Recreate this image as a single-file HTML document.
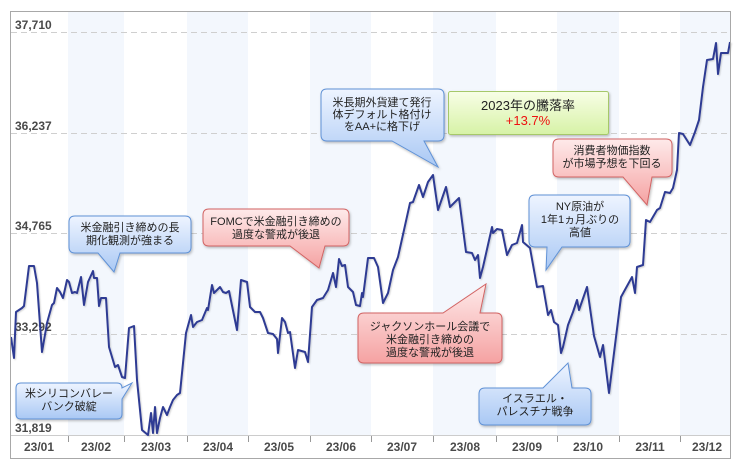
<!DOCTYPE html>
<html><head><meta charset="utf-8">
<style>
html,body{margin:0;padding:0;background:#fff;}
svg{display:block;}
.jp{font-family:"Liberation Sans","Noto Sans CJK JP",sans-serif;font-size:11px;fill:#222;text-anchor:middle;}
.ax{font-family:"Liberation Sans",sans-serif;font-size:12px;font-weight:bold;fill:#4a4a4a;}
.mx{font-family:"Liberation Sans",sans-serif;font-size:12px;font-weight:bold;fill:#4a4a4a;text-anchor:middle;}
</style></head>
<body>
<svg width="750" height="468" viewBox="0 0 750 468" xmlns="http://www.w3.org/2000/svg">
<defs>
<linearGradient id="gb" x1="0" y1="0" x2="0" y2="1"><stop offset="0" stop-color="#eef4ff"/><stop offset="1" stop-color="#a9c8f4"/></linearGradient>
<linearGradient id="gr" x1="0" y1="0" x2="0" y2="1"><stop offset="0" stop-color="#feeaea"/><stop offset="1" stop-color="#f5a2a2"/></linearGradient>
<linearGradient id="gg" x1="0" y1="0" x2="0" y2="1"><stop offset="0" stop-color="#f8fee6"/><stop offset="1" stop-color="#d6f2a6"/></linearGradient>
<filter id="sh" x="-10%" y="-10%" width="130%" height="140%"><feDropShadow dx="1" dy="1.5" stdDeviation="1.2" flood-color="#000" flood-opacity="0.25"/></filter>
<filter id="ls" x="-5%" y="-5%" width="110%" height="110%"><feDropShadow dx="1" dy="1" stdDeviation="0.8" flood-color="#000" flood-opacity="0.18"/></filter>
</defs>
<rect x="0" y="0" width="750" height="468" fill="#fff"/>
<!-- shaded month bands -->
<g fill="#f3f7fd">
<rect x="68" y="11" width="56" height="424"/>
<rect x="187" y="11" width="61" height="424"/>
<rect x="310" y="11" width="61" height="424"/>
<rect x="433" y="11" width="63" height="424"/>
<rect x="557" y="11" width="62" height="424"/>
<rect x="680" y="11" width="50" height="424"/>
</g>
<!-- gridlines -->
<g stroke="#cfcfcf" stroke-width="1" stroke-dasharray="6,4">
<line x1="11" y1="32.5" x2="730" y2="32.5"/>
<line x1="11" y1="133.5" x2="730" y2="133.5"/>
<line x1="11" y1="233.5" x2="730" y2="233.5"/>
<line x1="11" y1="334.5" x2="730" y2="334.5"/>
</g>
<line x1="11" y1="435.5" x2="730" y2="435.5" stroke="#cccccc" stroke-width="1"/>
<g stroke="#999" stroke-width="1">
<line x1="68.5" y1="436" x2="68.5" y2="442"/>
<line x1="124.5" y1="436" x2="124.5" y2="442"/>
<line x1="187.5" y1="436" x2="187.5" y2="442"/>
<line x1="248.5" y1="436" x2="248.5" y2="442"/>
<line x1="310.5" y1="436" x2="310.5" y2="442"/>
<line x1="371.5" y1="436" x2="371.5" y2="442"/>
<line x1="433.5" y1="436" x2="433.5" y2="442"/>
<line x1="496.5" y1="436" x2="496.5" y2="442"/>
<line x1="557.5" y1="436" x2="557.5" y2="442"/>
<line x1="619.5" y1="436" x2="619.5" y2="442"/>
<line x1="680.5" y1="436" x2="680.5" y2="442"/>
</g>
<!-- y labels -->
<text class="ax" x="15" y="29">37,710</text>
<text class="ax" x="15" y="130">36,237</text>
<text class="ax" x="15" y="230">34,765</text>
<text class="ax" x="15" y="331">33,292</text>
<text class="ax" x="15" y="432">31,819</text>
<!-- x labels -->
<text class="mx" x="39" y="451">23/01</text>
<text class="mx" x="96" y="451">23/02</text>
<text class="mx" x="156" y="451">23/03</text>
<text class="mx" x="218" y="451">23/04</text>
<text class="mx" x="279" y="451">23/05</text>
<text class="mx" x="341" y="451">23/06</text>
<text class="mx" x="402" y="451">23/07</text>
<text class="mx" x="465" y="451">23/08</text>
<text class="mx" x="527" y="451">23/09</text>
<text class="mx" x="588" y="451">23/10</text>
<text class="mx" x="650" y="451">23/11</text>
<text class="mx" x="707" y="451">23/12</text>
<!-- data line -->
<polyline filter="url(#ls)" fill="none" stroke="#2e3b93" stroke-width="2" stroke-linejoin="round" points="
11,337 14,358 16,312 22,308 24,306 29,266 34,266 37,283 42,352 47,323 52,305 54,303 57,288 60,292 63,298 67,280 69,282 72,293 75,292 77,293 81,277 84,305 88,282 93,271 94,278 97,278 99,306 101,298 106,298 109,347 115,367 118,365 122,377 125,378 129,328 134,326 137,380 142,430 148,435 151,413 153,433 155,407 157,433 160,418 163,407 167,415 170,407 173,400 177,395 180,393 183,363 186,333 191,315 193,327 197,322 202,320 207,308 208,310 212,285 214,293 220,287 223,292 226,293 229,291 237,330 241,280 247,282 250,307 255,312 260,312 263,318 268,333 273,334 277,339 278,353 282,318 285,322 288,333 290,332 295,368 298,350 305,352 308,362 312,307 317,300 323,298 328,290 333,273 336,287 339,259 342,266 345,265 348,287 353,292 356,305 360,306 362,293 363,297 368,258 374,258 378,267 383,303 388,293 393,270 398,257 404,230 410,203 413,202 419,185 423,197 428,182 433,175 438,210 446,187 450,207 459,198 466,252 472,253 475,260 478,255 480,278 483,267 492,227 493,233 497,229 502,230 507,255 512,245 517,243 522,225 523,242 530,248 537,287 543,286 548,315 551,310 554,322 558,325 561,353 563,347 568,325 573,312 577,300 579,310 587,287 594,336 600,357 603,345 609,393 615,345 621,297 632,277 635,293 637,267 643,265 646,220 650,222 657,210 660,208 665,192 670,193 673,188 677,170 679,133 683,134 690,145 695,132 699,120 703,87 707,60 713,59 716,43 718,74 721,53 728,53 730,42"/>
<!-- frame -->
<rect x="10.5" y="11.5" width="720" height="447" fill="none" stroke="#a8a8a8" stroke-width="1"/>

<!-- callouts -->
<g filter="url(#sh)" stroke-width="1">
<path fill="url(#gb)" stroke="#5f91d6" d="M21,383 H117 Q122,383 122,388 L132,383 L122,399 V414 Q122,419 117,419 H21 Q16,419 16,414 V388 Q16,383 21,383 Z"/>
<path fill="url(#gb)" stroke="#5f91d6" d="M75,216 H185 Q191,216 191,222 V247 Q191,253 185,253 H120 L114,272 L98,253 H75 Q69,253 69,247 V222 Q69,216 75,216 Z"/>
<path fill="url(#gr)" stroke="#d26464" d="M209,209 H343 Q349,209 349,215 V240 Q349,246 343,246 H325 L319,268 L290,246 H209 Q203,246 203,240 V215 Q203,209 209,209 Z"/>
<path fill="url(#gb)" stroke="#5f91d6" d="M327,89 H438 Q444,89 444,95 V135 Q444,141 438,141 H424 L438,167 L392,141 H327 Q321,141 321,135 V95 Q321,89 327,89 Z"/>
<rect x="448.5" y="91.5" width="160" height="43" rx="2" fill="url(#gg)" stroke="#a6c86a"/>
<path fill="url(#gr)" stroke="#d26464" d="M559,139 H666 Q672,139 672,145 V171 Q672,177 666,177 H652 L647,205 L623,177 H559 Q553,177 553,171 V145 Q553,139 559,139 Z"/>
<path fill="url(#gb)" stroke="#5f91d6" d="M535,195 H624 Q630,195 630,201 V241 Q630,247 624,247 H562 L546,270 L547,247 H535 Q529,247 529,241 V201 Q529,195 535,195 Z"/>
<path fill="url(#gb)" stroke="#5f91d6" d="M485,388 H543 L568,363 L572,388 H585 Q591,388 591,394 V419 Q591,425 585,425 H485 Q479,425 479,419 V394 Q479,388 485,388 Z"/>
<path fill="url(#gr)" stroke="#d26464" d="M364,313 H443 L486,284 L480,313 H496 Q502,313 502,319 V357 Q502,363 496,363 H364 Q358,363 358,357 V319 Q358,313 364,313 Z"/>
</g>

<text class="jp" x="69" y="397">米シリコンバレー</text>
<text class="jp" x="69" y="410">バンク破綻</text>

<text class="jp" x="130" y="231">米金融引き締めの長</text>
<text class="jp" x="130" y="244">期化観測が強まる</text>

<text class="jp" x="276" y="225">FOMCで米金融引き締めの</text>
<text class="jp" x="276" y="238">過度な警戒が後退</text>

<text class="jp" x="382" y="106">米長期外貨建て発行</text>
<text class="jp" x="382" y="118">体デフォルト格付け</text>
<text class="jp" x="382" y="130">をAA+に格下げ</text>

<text class="jp" x="528" y="110" style="font-size:13px">2023年の騰落率</text>
<text class="jp" x="528" y="125" style="font-size:13px;fill:#ee1111">+13.7%</text>

<text class="jp" x="612" y="154">消費者物価指数</text>
<text class="jp" x="612" y="167">が市場予想を下回る</text>

<text class="jp" x="580" y="210">NY原油が</text>
<text class="jp" x="580" y="223">1年1ヵ月ぶりの</text>
<text class="jp" x="580" y="236">高値</text>

<text class="jp" x="535" y="402">イスラエル・</text>
<text class="jp" x="535" y="415">パレスチナ戦争</text>

<text class="jp" x="430" y="330">ジャクソンホール会議で</text>
<text class="jp" x="430" y="343">米金融引き締めの</text>
<text class="jp" x="430" y="356">過度な警戒が後退</text>
</svg>
</body></html>
